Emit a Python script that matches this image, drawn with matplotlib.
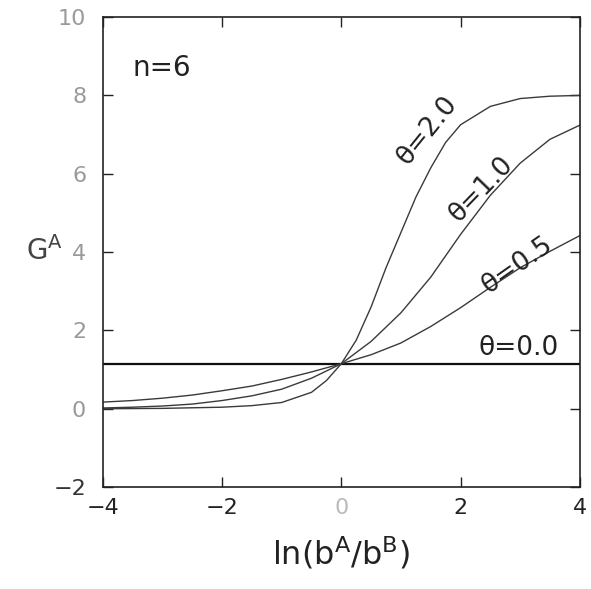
import matplotlib
matplotlib.use("Agg")
import matplotlib.pyplot as plt

# ---- data ----
x_t00 = [-4.0, 4.0]
g_t00 = [1.15, 1.15]

x_t05 = [-4.0, -3.5, -3.0, -2.5, -2.0, -1.5, -1.0, -0.5, 0.0, 0.5, 1.0, 1.5, 2.0, 2.5, 3.0, 3.5, 4.0]
g_t05 = [0.17, 0.21, 0.27, 0.35, 0.46, 0.58, 0.75, 0.94, 1.15, 1.38, 1.68, 2.10, 2.58, 3.10, 3.60, 4.02, 4.42]

x_t10 = [-4.0, -3.5, -3.0, -2.5, -2.0, -1.5, -1.0, -0.5, 0.0, 0.5, 1.0, 1.5, 2.0, 2.5, 3.0, 3.5, 4.0]
g_t10 = [0.02, 0.04, 0.07, 0.12, 0.21, 0.33, 0.50, 0.78, 1.15, 1.72, 2.45, 3.36, 4.45, 5.45, 6.27, 6.88, 7.24]

x_t20 = [-4.0, -3.0, -2.0, -1.5, -1.0, -0.5, -0.25, 0.0, 0.25, 0.5, 0.75, 1.0, 1.25, 1.5, 1.75, 2.0, 2.5, 3.0, 3.5, 4.0]
g_t20 = [0.00, 0.01, 0.04, 0.08, 0.16, 0.42, 0.72, 1.15, 1.75, 2.60, 3.60, 4.50, 5.40, 6.15, 6.80, 7.25, 7.72, 7.92, 7.98, 8.00]

x_ticks = [-4, -2, 0, 2, 4]
y_ticks = [-2, 0, 2, 4, 6, 8, 10]

fig = plt.figure(figsize=(5.91, 5.89), dpi=100)
ax = fig.add_axes([0.174, 0.173, 0.807, 0.798])

ax.plot(x_t00, g_t00, color="#111111", lw=1.6)
ax.plot(x_t05, g_t05, color="#3a3a3a", lw=1.0)
ax.plot(x_t10, g_t10, color="#3a3a3a", lw=1.0)
ax.plot(x_t20, g_t20, color="#3a3a3a", lw=1.0)

ax.set_xlim(-4, 4)
ax.set_ylim(-2, 10)
ax.set_xticks(x_ticks)
ax.set_yticks(y_ticks)
ax.set_xticklabels(["\u22124", "\u22122", "0", "2", "4"])
ax.set_yticklabels(["\u22122", "0", "2", "4", "6", "8", "10"])

ax.tick_params(axis="both", direction="in", length=7, width=1.0,
               top=True, right=True, labelsize=16, colors="#222222")
ax.tick_params(axis="x", pad=8)
ax.tick_params(axis="y", pad=12, labelcolor="#9a9a9a")
for lab in ax.get_xticklabels():
    if lab.get_text() == "0":
        lab.set_color("#bbbbbb")
for lab in ax.get_yticklabels():
    if lab.get_text() == "\u22122":
        lab.set_color("#333333")

for s in ax.spines.values():
    s.set_linewidth(1.2)
    s.set_color("#222222")

ax.set_xlabel(r"$\mathregular{ln(b^{A}/b^{B})}$", fontsize=23, color="#222222", labelpad=12)
ax.set_ylabel(r"$\mathregular{G^{A}}$", fontsize=20, color="#444444", rotation=0)
ax.yaxis.set_label_coords(-0.122, 0.47)

ax.text(-3.5, 8.7, "n=6", fontsize=20, ha="left", va="center", color="#222222")
ax.text(1.45, 7.1, "\u03b8=2.0", fontsize=19, rotation=51, rotation_mode="anchor",
        ha="center", va="center", color="#222222")
ax.text(2.35, 5.6, "\u03b8=1.0", fontsize=19, rotation=46, rotation_mode="anchor",
        ha="center", va="center", color="#222222")
ax.text(2.96, 3.67, "\u03b8=0.5", fontsize=19, rotation=35, rotation_mode="anchor",
        ha="center", va="center", color="#222222")
ax.text(2.98, 1.38, "\u03b8=0.0", fontsize=19, ha="center", va="baseline", color="#222222")

fig.savefig("out.png", dpi=100)
